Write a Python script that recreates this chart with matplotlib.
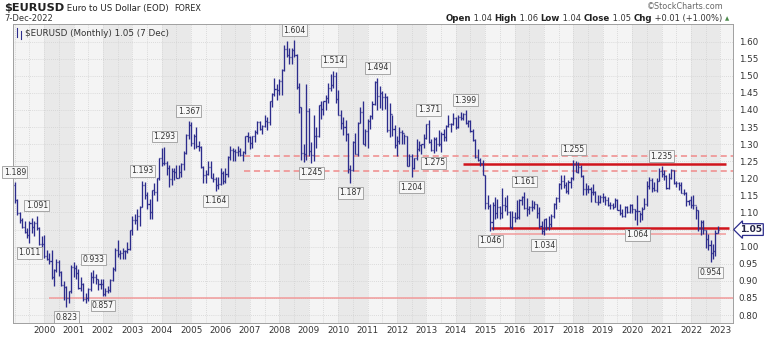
import matplotlib
matplotlib.use("Agg")
import matplotlib.pyplot as plt
import numpy as np

# ================= Data (monthly EURUSD) ===============
first_open = 1.179

highs = [
    1.189, 1.140, 1.102, 1.085, 1.075, 1.055, 1.075, 1.085, 1.075, 1.091, 1.057, 1.030,  # 1999
    1.035, 0.990, 0.980, 0.990, 0.935, 0.965, 0.960, 0.930, 0.900, 0.885, 0.870, 0.945,  # 2000
    0.955, 0.945, 0.935, 0.910, 0.895, 0.865, 0.880, 0.925, 0.933, 0.920, 0.905, 0.905,  # 2001
    0.905, 0.880, 0.885, 0.905, 0.940, 0.995, 1.020, 0.990, 0.995, 0.990, 1.015, 1.050,  # 2002
    1.090, 1.095, 1.110, 1.120, 1.193, 1.190, 1.160, 1.140, 1.165, 1.185, 1.200, 1.260,  # 2003
    1.290, 1.293, 1.250, 1.240, 1.230, 1.230, 1.240, 1.240, 1.245, 1.280, 1.330, 1.367,  # 2004
    1.365, 1.330, 1.350, 1.310, 1.295, 1.235, 1.225, 1.250, 1.250, 1.215, 1.205, 1.205,  # 2005
    1.230, 1.220, 1.230, 1.265, 1.295, 1.290, 1.285, 1.295, 1.290, 1.280, 1.325, 1.335,  # 2006
    1.325, 1.325, 1.340, 1.368, 1.368, 1.355, 1.385, 1.380, 1.425, 1.450, 1.495, 1.475,  # 2007
    1.490, 1.520, 1.590, 1.601, 1.580, 1.580, 1.604, 1.565, 1.480, 1.410, 1.300, 1.475,  # 2008
    1.405, 1.305, 1.385, 1.350, 1.415, 1.425, 1.425, 1.445, 1.478, 1.505, 1.514, 1.510,  # 2009
    1.458, 1.399, 1.380, 1.370, 1.333, 1.240, 1.310, 1.333, 1.365, 1.410, 1.425, 1.345,  # 2010
    1.375, 1.385, 1.425, 1.486, 1.494, 1.470, 1.455, 1.450, 1.440, 1.420, 1.385, 1.355,  # 2011
    1.325, 1.349, 1.340, 1.330, 1.325, 1.270, 1.270, 1.260, 1.315, 1.310, 1.300, 1.330,  # 2012
    1.360, 1.371, 1.315, 1.320, 1.320, 1.342, 1.335, 1.345, 1.355, 1.385, 1.362, 1.390,  # 2013
    1.380, 1.385, 1.395, 1.392, 1.399, 1.370, 1.370, 1.345, 1.315, 1.285, 1.260, 1.255,  # 2014
    1.210, 1.150, 1.125, 1.130, 1.145, 1.140, 1.120, 1.171, 1.145, 1.150, 1.105, 1.105,  # 2015
    1.100, 1.138, 1.140, 1.148, 1.161, 1.143, 1.120, 1.137, 1.135, 1.125, 1.115, 1.075,  # 2016
    1.080, 1.083, 1.091, 1.095, 1.127, 1.145, 1.185, 1.210, 1.209, 1.188, 1.196, 1.205,  # 2017
    1.255, 1.250, 1.248, 1.240, 1.210, 1.185, 1.179, 1.174, 1.182, 1.162, 1.150, 1.150,  # 2018
    1.157, 1.149, 1.145, 1.132, 1.127, 1.141, 1.140, 1.125, 1.109, 1.118, 1.118, 1.124,  # 2019
    1.124, 1.110, 1.150, 1.100, 1.115, 1.142, 1.191, 1.203, 1.201, 1.188, 1.200, 1.231,  # 2020
    1.235, 1.224, 1.210, 1.215, 1.227, 1.225, 1.192, 1.190, 1.190, 1.169, 1.161, 1.138,  # 2021
    1.148, 1.150, 1.118, 1.108, 1.079, 1.077, 1.048, 1.037, 1.020, 1.009, 1.050, 1.060,  # 2022
]
lows = [
    1.128, 1.093, 1.070, 1.055, 1.040, 1.026, 1.011, 1.040, 1.030, 1.050, 1.005, 1.000,  # 1999
    0.968, 0.960, 0.950, 0.905, 0.885, 0.925, 0.915, 0.885, 0.845, 0.823, 0.836, 0.865,  # 2000
    0.910, 0.905, 0.875, 0.870, 0.840, 0.835, 0.840, 0.870, 0.895, 0.890, 0.873, 0.875,  # 2001
    0.857, 0.857, 0.865, 0.868, 0.900, 0.930, 0.970, 0.965, 0.965, 0.965, 0.980, 0.990,  # 2002
    1.035, 1.065, 1.050, 1.060, 1.115, 1.140, 1.110, 1.080, 1.080, 1.150, 1.135, 1.195,  # 2003
    1.235, 1.240, 1.210, 1.175, 1.180, 1.195, 1.200, 1.200, 1.205, 1.225, 1.270, 1.315,  # 2004
    1.295, 1.285, 1.290, 1.280, 1.230, 1.187, 1.187, 1.210, 1.200, 1.190, 1.164, 1.170,  # 2005
    1.180, 1.183, 1.185, 1.205, 1.255, 1.250, 1.250, 1.265, 1.265, 1.250, 1.270, 1.305,  # 2006
    1.285, 1.290, 1.305, 1.330, 1.340, 1.330, 1.350, 1.340, 1.355, 1.410, 1.440, 1.430,  # 2007
    1.445, 1.445, 1.515, 1.555, 1.535, 1.535, 1.555, 1.460, 1.390, 1.255, 1.247, 1.255,  # 2008
    1.265, 1.245, 1.250, 1.290, 1.320, 1.375, 1.385, 1.400, 1.420, 1.455, 1.465, 1.420,  # 2009
    1.385, 1.343, 1.327, 1.310, 1.215, 1.187, 1.220, 1.270, 1.265, 1.362, 1.300, 1.295,  # 2010
    1.290, 1.345, 1.375, 1.415, 1.400, 1.405, 1.400, 1.404, 1.335, 1.320, 1.325, 1.290,  # 2011
    1.265, 1.300, 1.300, 1.300, 1.235, 1.235, 1.204, 1.228, 1.255, 1.280, 1.270, 1.290,  # 2012
    1.315, 1.303, 1.280, 1.275, 1.280, 1.295, 1.277, 1.310, 1.310, 1.350, 1.335, 1.355,  # 2013
    1.345, 1.347, 1.370, 1.370, 1.360, 1.350, 1.337, 1.310, 1.260, 1.250, 1.236, 1.210,  # 2014
    1.110, 1.110, 1.046, 1.050, 1.081, 1.085, 1.080, 1.085, 1.105, 1.093, 1.056, 1.052,  # 2015
    1.071, 1.082, 1.082, 1.122, 1.110, 1.091, 1.095, 1.105, 1.110, 1.085, 1.055, 1.036,  # 2016
    1.034, 1.049, 1.050, 1.057, 1.084, 1.111, 1.131, 1.170, 1.172, 1.157, 1.155, 1.172,  # 2017
    1.195, 1.218, 1.215, 1.205, 1.151, 1.151, 1.157, 1.130, 1.150, 1.130, 1.122, 1.127,  # 2018
    1.131, 1.123, 1.118, 1.111, 1.110, 1.116, 1.107, 1.093, 1.088, 1.088, 1.098, 1.098,  # 2019
    1.098, 1.078, 1.064, 1.073, 1.077, 1.110, 1.120, 1.170, 1.161, 1.162, 1.160, 1.192,  # 2020
    1.205, 1.195, 1.170, 1.170, 1.199, 1.184, 1.175, 1.166, 1.156, 1.152, 1.119, 1.122,  # 2021
    1.112, 1.111, 1.081, 1.047, 1.035, 1.036, 0.995, 0.990, 0.954, 0.963, 0.973, 1.039,  # 2022
]
closes = [
    1.138, 1.098, 1.077, 1.058, 1.043, 1.035, 1.068, 1.058, 1.068, 1.055, 1.009, 1.007,  # 1999
    0.972, 0.965, 0.957, 0.910, 0.933, 0.955, 0.925, 0.888, 0.882, 0.850, 0.870, 0.940,  # 2000
    0.938, 0.922, 0.880, 0.890, 0.848, 0.850, 0.875, 0.910, 0.912, 0.905, 0.890, 0.890,  # 2001
    0.861, 0.870, 0.872, 0.902, 0.934, 0.990, 0.978, 0.981, 0.987, 0.987, 0.993, 1.049,  # 2002
    1.077, 1.078, 1.091, 1.117, 1.180, 1.150, 1.125, 1.100, 1.165, 1.160, 1.200, 1.259,  # 2003
    1.245, 1.245, 1.230, 1.197, 1.220, 1.218, 1.202, 1.218, 1.241, 1.275, 1.328, 1.355,  # 2004
    1.303, 1.325, 1.296, 1.293, 1.233, 1.210, 1.214, 1.234, 1.202, 1.199, 1.179, 1.184,  # 2005
    1.216, 1.192, 1.212, 1.262, 1.282, 1.279, 1.276, 1.281, 1.267, 1.276, 1.323, 1.320,  # 2006
    1.303, 1.323, 1.336, 1.366, 1.345, 1.353, 1.367, 1.365, 1.425, 1.447, 1.462, 1.459,  # 2007
    1.485, 1.518, 1.579, 1.561, 1.554, 1.575, 1.560, 1.467, 1.409, 1.274, 1.270, 1.397,  # 2008
    1.281, 1.267, 1.325, 1.325, 1.415, 1.403, 1.425, 1.434, 1.464, 1.472, 1.499, 1.433,  # 2009
    1.386, 1.362, 1.351, 1.330, 1.227, 1.224, 1.305, 1.270, 1.362, 1.393, 1.300, 1.338,  # 2010
    1.369, 1.381, 1.417, 1.481, 1.440, 1.450, 1.439, 1.437, 1.340, 1.387, 1.345, 1.297,  # 2011
    1.308, 1.335, 1.334, 1.323, 1.237, 1.266, 1.230, 1.258, 1.286, 1.298, 1.299, 1.319,  # 2012
    1.358, 1.306, 1.282, 1.316, 1.299, 1.301, 1.330, 1.322, 1.352, 1.358, 1.359, 1.376,  # 2013
    1.349, 1.380, 1.377, 1.387, 1.363, 1.369, 1.339, 1.313, 1.263, 1.253, 1.245, 1.210,  # 2014
    1.129, 1.120, 1.073, 1.122, 1.099, 1.115, 1.098, 1.121, 1.118, 1.100, 1.057, 1.086,  # 2015
    1.083, 1.088, 1.138, 1.145, 1.113, 1.110, 1.117, 1.116, 1.124, 1.098, 1.059, 1.047,  # 2016
    1.080, 1.058, 1.065, 1.089, 1.124, 1.142, 1.183, 1.191, 1.181, 1.164, 1.190, 1.201,  # 2017
    1.241, 1.219, 1.232, 1.208, 1.169, 1.168, 1.169, 1.160, 1.160, 1.131, 1.132, 1.146,  # 2018
    1.145, 1.137, 1.122, 1.121, 1.117, 1.137, 1.108, 1.098, 1.090, 1.115, 1.101, 1.121,  # 2019
    1.109, 1.103, 1.103, 1.095, 1.110, 1.124, 1.178, 1.194, 1.172, 1.165, 1.193, 1.222,  # 2020
    1.213, 1.207, 1.173, 1.202, 1.223, 1.186, 1.187, 1.181, 1.158, 1.156, 1.134, 1.137,  # 2021
    1.123, 1.122, 1.107, 1.054, 1.073, 1.048, 1.022, 1.005, 0.980, 0.988, 1.041, 1.050,  # 2022
]
# forex month opens at the previous month's close
opens = [first_open] + closes[:-1]

start_year = 1999
year_ticks = list(range(2000, 2024))
price_ticks = [0.80, 0.85, 0.90, 0.95, 1.00, 1.05, 1.10, 1.15, 1.20, 1.25,
               1.30, 1.35, 1.40, 1.45, 1.50, 1.55, 1.60]

# swing labels: month index from Jan 1999, text, above/below
label_months = [0, 9, 6, 21, 32, 36, 52, 61, 71, 82, 114, 121, 130, 137, 148,
                162, 169, 171, 184, 194, 208, 216, 228, 254, 264, 284]
label_texts = ["1.189", "1.091", "1.011", "0.823", "0.933", "0.857", "1.193",
               "1.293", "1.367", "1.164", "1.604", "1.245", "1.514", "1.187",
               "1.494", "1.204", "1.371", "1.275", "1.399", "1.046", "1.161",
               "1.034", "1.255", "1.064", "1.235", "0.954"]
label_sides = ["hi", "hi", "lo", "lo", "hi", "lo", "hi", "hi", "hi", "lo", "hi",
               "lo", "hi", "lo", "hi", "lo", "hi", "lo", "hi", "lo", "hi", "lo",
               "hi", "lo", "hi", "lo"]

# drawn support / resistance levels: value, from, to (fractional year)
level_values = [1.265, 1.222, 1.241, 1.054, 1.036, 0.850]
level_starts = [2006.8, 2006.8, 2014.25, 2015.2, 2015.2, 2000.17]
level_ends = [2023.5, 2023.5, 2023.2, 2023.3, 2023.2, 2023.5]
level_kinds = ["dash", "dash", "strong", "strong", "light", "light"]

# ================= Plot ===============
W, H = 768, 338
fig = plt.figure(figsize=(W / 100, H / 100), dpi=100)
fig.patch.set_facecolor("white")
ax = fig.add_axes([13 / W, 15 / H, 720 / W, 299 / H])
ax.set_facecolor("#f4f4f4")

x0, x1 = 1998.94, 2023.43
ax.set_xlim(x0, x1)
ax.set_ylim(0.7766, 1.6516)

dates = start_year + np.arange(len(closes)) / 12.0

# alternating year shading
for y in range(1999, 2024):
    if y % 2 == 0:
        ax.axvspan(y, y + 1, color="#e9e9e9", lw=0, zorder=0)

# grid
for y in price_ticks:
    ax.axhline(y, color="#d2d2d2", lw=0.6, ls=(0, (1, 1.5)), zorder=1)
for y in np.arange(1999, 2023.5, 0.5):
    ax.axvline(y, color="#d2d2d2", lw=0.6, ls=(0, (1, 1.5)), zorder=1)

# levels
for v, a, b, k in zip(level_values, level_starts, level_ends, level_kinds):
    if k == "strong":
        ax.hlines(v, a, b, color="#d0141c", lw=1.8, zorder=2)
    elif k == "dash":
        ax.hlines(v, a, b, color="#f08a8a", lw=1.1, ls=(0, (4, 2.5)), zorder=2)
    else:
        ax.hlines(v, a, b, color="#f19a9a", lw=1.1, zorder=2)

# OHLC bars
bar_color = "#2c2c8c"
tick = 0.036
ax.vlines(dates, lows, highs, color=bar_color, lw=0.95, zorder=3)
ax.hlines(opens, dates - tick, dates, color=bar_color, lw=0.95, zorder=3)
ax.hlines(closes, dates, dates + tick, color=bar_color, lw=0.95, zorder=3)

# swing labels
for m, t, s in zip(label_months, label_texts, label_sides):
    xd = dates[m]
    if s == "hi":
        yd, off, va = highs[m], 4, "bottom"
    else:
        yd, off, va = lows[m], -4, "top"
    ax.annotate(t, (xd, yd), xytext=(0, off), textcoords="offset points",
                ha="center", va=va, fontsize=5.6, color="#333333",
                annotation_clip=False, zorder=6,
                bbox=dict(boxstyle="square,pad=0.18", fc="#f7f7f7",
                          ec="#9a9a9a", lw=0.6))

# axes styling
for sp in ax.spines.values():
    sp.set_color("#a0a0a0")
    sp.set_linewidth(0.7)
ax.yaxis.tick_right()
ax.set_yticks(price_ticks)
# the 1.05 level is shown by the price tag instead
ax.set_yticklabels(["" if abs(v - 1.05) < 1e-9 else "%.2f" % v for v in price_ticks])
ax.set_xticks(year_ticks)
ax.set_xticklabels([str(y) for y in year_ticks])
ax.tick_params(axis="both", length=0, labelsize=6.3, labelcolor="#333333")
ax.tick_params(axis="y", pad=4)
ax.tick_params(axis="x", pad=2.5)

# current price tag on the axis
ax.annotate("1.05", (1.0, closes[-1]), xycoords=("axes fraction", "data"),
            xytext=(5, 0), textcoords="offset points", ha="left", va="center",
            fontsize=6.5, fontweight="bold", color="#222244",
            annotation_clip=False, zorder=7,
            bbox=dict(boxstyle="larrow,pad=0.15", fc="white", ec="#2c2c8c", lw=0.9))

# legend line inside the plot
ax.plot([0.006, 0.006], [0.955, 0.985], transform=ax.transAxes, color=bar_color, lw=0.8)
ax.plot([0.011, 0.011], [0.950, 0.978], transform=ax.transAxes, color=bar_color, lw=0.8)
ax.text(0.016, 0.967, "$EURUSD (Monthly) 1.05 (7 Dec)", transform=ax.transAxes,
        fontsize=6.3, color="#333333", va="center", ha="left")

# ================= Header ===============
fig.canvas.draw()
renderer = fig.canvas.get_renderer()


def runs(x, y, parts, align="left"):
    """draw text pieces side by side, x,y in pixels from top-left"""
    items = []
    total = 0
    for s, size, weight, color in parts:
        t = fig.text(0, 0, s, fontsize=size, fontweight=weight, color=color,
                     va="baseline", ha="left")
        w = t.get_window_extent(renderer).width
        items.append((t, w))
        total += w
    cx = x - total if align == "right" else x
    for t, w in items:
        t.set_position((cx / W, 1 - y / H))
        cx += w


runs(4, 11, [("$EURUSD", 8.2, "bold", "#222222"),
             (" Euro to US Dollar (EOD)  ", 6.2, "normal", "#222222"),
             ("FOREX", 5.8, "normal", "#222222")])
fig.text(4 / W, 1 - 21 / H, "7-Dec-2022", fontsize=6.0, color="#333333",
         va="baseline", ha="left")
fig.text(724 / W, 1 - 9 / H, "\u00a9StockCharts.com", fontsize=5.8,
         color="#666666", va="baseline", ha="right")
runs(722, 21, [("Open", 6.2, "bold", "#222222"), (" 1.04 ", 6.0, "normal", "#333333"),
               ("High", 6.2, "bold", "#222222"), (" 1.06 ", 6.0, "normal", "#333333"),
               ("Low", 6.2, "bold", "#222222"), (" 1.04 ", 6.0, "normal", "#333333"),
               ("Close", 6.2, "bold", "#222222"), (" 1.05 ", 6.0, "normal", "#333333"),
               ("Chg", 6.2, "bold", "#222222"), (" +0.01 (+1.00%)", 6.0, "normal", "#333333")],
     align="right")
fig.text(725 / W, 1 - 20 / H, "\u25b2", fontsize=4, color="#4a8a4a",
         va="baseline", ha="left")

fig.savefig("out.png", dpi=100)
